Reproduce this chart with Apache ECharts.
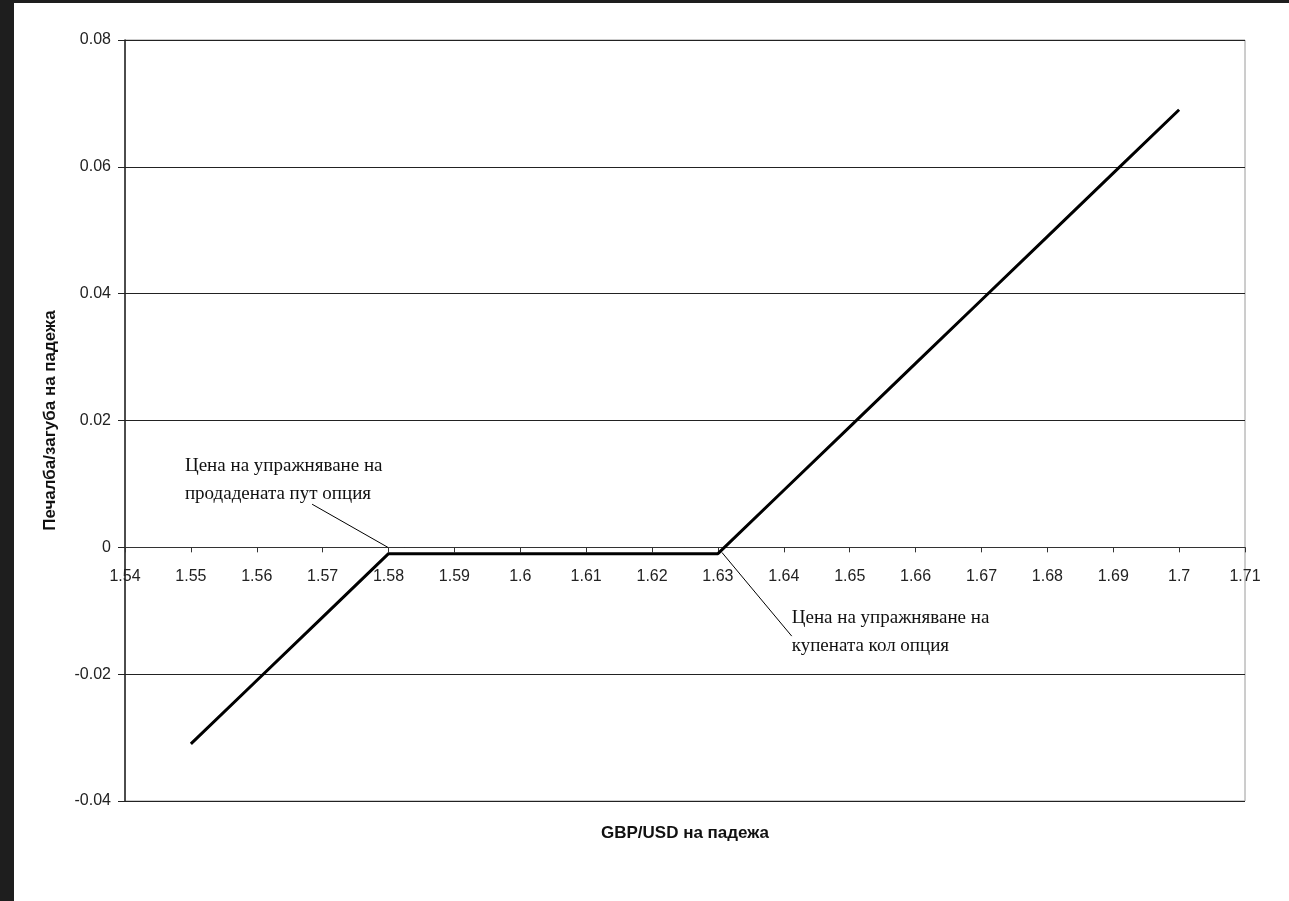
<!DOCTYPE html>
<html>
<head>
<meta charset="utf-8">
<script src="https://cdn.jsdelivr.net/npm/echarts@6/dist/echarts.min.js"></script>
<style>
  html, body { margin: 0; padding: 0; background: #1e1e1e; }
  #chart { position: absolute; left: 14px; top: 3px; width: 1275px; height: 898px; background: #fff; }
</style>
</head>
<body>
<div id="chart"></div>
<script>
// цена на GBP/USD на падежа и печалба/загуба
const spotPrices = [1.55, 1.56, 1.57, 1.58, 1.59, 1.60, 1.61, 1.62, 1.63, 1.64, 1.65, 1.66, 1.67, 1.68, 1.69, 1.70];
const profitLoss = [-0.031, -0.021, -0.011, -0.001, -0.001, -0.001, -0.001, -0.001, -0.001, 0.009, 0.019, 0.029, 0.039, 0.049, 0.059, 0.069];

const xTicks = { min: 1.54, max: 1.71, step: 0.01 };
const yTicks = { min: -0.04, max: 0.08, step: 0.02 };

// бележки: текст, точка на текста, начало и край на стрелката
const notes = [
    { text: 'Цена на упражняване на\nпродадената пут опция', at: [1.5491, 0.0150], from: [1.5684, 0.0068], to: [1.5799, 0] },
    { text: 'Цена на упражняване на\nкупената кол опция', at: [1.6412, -0.0090], from: [1.6306, -0.0008], to: [1.6412, -0.0140] }
];

const chartDom = document.getElementById('chart');
const myChart = echarts.init(chartDom);

const seriesData = spotPrices.map((x, i) => [x, profitLoss[i]]);

const gridTop = 37, gridHeight = 761;
// x оста минава през нулата на y оста
const zeroOffset = -gridHeight * (0 - yTicks.min) / (yTicks.max - yTicks.min);

const option = {
    animation: false,
    backgroundColor: '#fff',
    textStyle: { fontFamily: 'Liberation Sans, Arial, sans-serif' },
    grid: {
        left: 111, top: gridTop, width: 1120, height: gridHeight,
        outerBoundsMode: 'none',
        containLabel: false,
        show: true, borderColor: '#9a9a9a', borderWidth: 1
    },
    xAxis: {
        type: 'value',
        min: xTicks.min, max: xTicks.max, interval: xTicks.step,
        offset: zeroOffset,
        name: 'GBP/USD на падежа',
        nameLocation: 'middle',
        nameGap: 277,
        nameTextStyle: { fontSize: 17, fontWeight: 'bold', color: '#111' },
        axisLine: { onZero: false, lineStyle: { color: '#333', width: 1 } },
        axisTick: { show: true, length: 5, lineStyle: { color: '#333' } },
        axisLabel: { fontSize: 16, color: '#222', margin: 21 },
        splitLine: { show: false }
    },
    yAxis: {
        type: 'value',
        min: yTicks.min, max: yTicks.max, interval: yTicks.step,
        name: 'Печалба/загуба на падежа',
        nameLocation: 'middle',
        nameRotate: 90,
        nameGap: 66,
        nameTextStyle: { fontSize: 17, fontWeight: 'bold', color: '#111' },
        axisLine: { show: true, lineStyle: { color: '#222', width: 1.5 } },
        axisTick: { show: true, length: 7, lineStyle: { color: '#222' } },
        axisLabel: { fontSize: 16, color: '#222', margin: 14 },
        splitLine: { show: true, lineStyle: { color: '#222', width: 1 } }
    },
    series: [{
        type: 'line',
        data: seriesData,
        showSymbol: false,
        symbol: 'none',
        lineStyle: { color: '#000', width: 3 },
        markLine: {
            silent: true,
            symbol: ['none', 'none'],
            label: { show: false },
            lineStyle: { color: '#000', width: 1, type: 'solid' },
            data: notes.map(n => [{ coord: n.from }, { coord: n.to }])
        }
    }]
};
myChart.setOption(option);

// текстовете на бележките, закачени за координати от графиката
myChart.setOption({
    graphic: notes.map(n => {
        const p = myChart.convertToPixel({ gridIndex: 0 }, n.at);
        return {
            type: 'text',
            x: p[0], y: p[1],
            style: {
                text: n.text,
                font: '19px "Liberation Serif", "Times New Roman", serif',
                fill: '#111',
                lineHeight: 28
            }
        };
    })
});
</script>
</body>
</html>
